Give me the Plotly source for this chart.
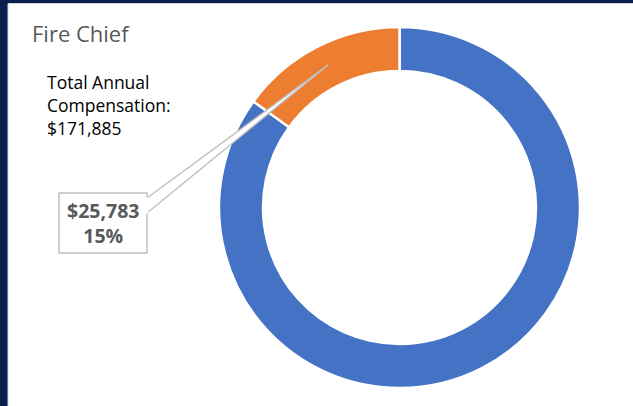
import plotly.graph_objects as go

# Compensation breakdown for the Fire Chief
components = ["Base Salary", "Other Compensation"]
amounts = [146102, 25783]
colors = ["#4472C4", "#ED7D31"]
title_text = "Fire Chief"

W, H = 633, 406
total = sum(amounts)
other = amounts[1]
share = other / total


def fx(px):
    return px / W


def fy(py):
    return 1 - py / H


fig = go.Figure(
    go.Pie(
        labels=components,
        values=amounts,
        hole=0.756,
        sort=False,
        direction="clockwise",
        rotation=0,
        marker=dict(colors=colors, line=dict(color="white", width=2.5)),
        textinfo="none",
        hoverinfo="label+value+percent",
        showlegend=False,
        domain=dict(x=[fx(219), fx(580)], y=[fy(388), fy(27)]),
    )
)

shapes = [
    # white chart area on the dark frame
    dict(type="rect", xref="paper", yref="paper", x0=fx(8), x1=fx(640), y0=fy(3.5), y1=fy(410),
         fillcolor="white", line=dict(color="#d0d3da", width=1), layer="below"),
    # callout pointer
    dict(type="path", xref="paper", yref="paper",
         path=f"M {fx(147)} {fy(198)} L {fx(328)} {fy(65)} L {fx(147)} {fy(213)} Z",
         fillcolor="white", line=dict(color="#bfbfbf", width=1.5), layer="above"),
    # callout box
    dict(type="rect", xref="paper", yref="paper", x0=fx(59), x1=fx(147), y0=fy(193), y1=fy(253),
         fillcolor="white", line=dict(color="#bfbfbf", width=1.5), layer="above"),
    # cover the pointer base inside the box
    dict(type="rect", xref="paper", yref="paper", x0=fx(146), x1=fx(148.2), y0=fy(197.5), y1=fy(213.5),
         fillcolor="white", line=dict(width=0), layer="above"),
]

annotations = [
    dict(text=title_text, x=fx(30), y=fy(33), xref="paper", yref="paper", xanchor="left", yanchor="middle",
         showarrow=False, font=dict(family="Open Sans", size=22, color="#595959")),
    dict(text=f"Total Annual<br>Compensation:<br>${total:,}", x=fx(45), y=fy(105), xref="paper", yref="paper",
         xanchor="left", yanchor="middle", align="left", showarrow=False,
         font=dict(family="Open Sans", size=17.5, color="#000000")),
    dict(text=f"<b>${other:,}</b><br><b>{share:.0%}</b>", x=fx(103), y=fy(223), xref="paper", yref="paper",
         xanchor="center", yanchor="middle", align="center", showarrow=False,
         font=dict(family="Open Sans", size=19.5, color="#595959")),
]

fig.update_layout(
    width=W,
    height=H,
    margin=dict(l=0, r=0, t=0, b=0),
    paper_bgcolor="#0b1f4f",
    plot_bgcolor="white",
    shapes=shapes,
    annotations=annotations,
)

fig.write_html("out.html")
